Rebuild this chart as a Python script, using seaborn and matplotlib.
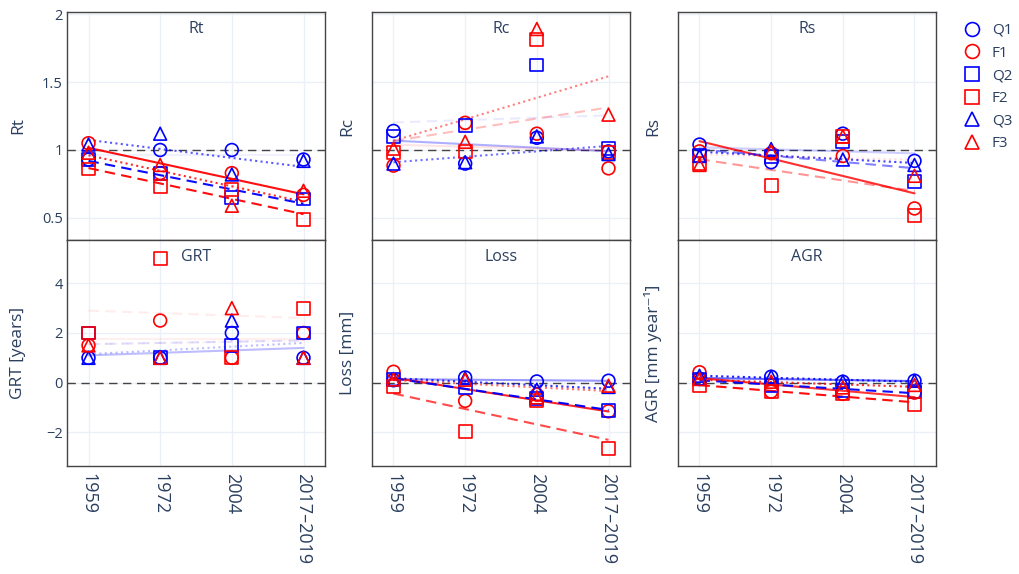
import numpy as np
import pandas as pd
import matplotlib
matplotlib.use("Agg")
import matplotlib.pyplot as plt
from matplotlib.lines import Line2D
import seaborn as sns

# categories
years = ["1959", "1972", "2004", "2017–2019"]
sites = ["Q1", "F1", "Q2", "F2", "Q3", "F3"]
panels = ["Rt", "Rc", "Rs", "GRT", "Loss", "AGR"]
ylabels = ["Rt", "Rc", "Rs", "GRT [years]", "Loss [mm]", "AGR [mm year⁻¹]"]

# values, one list per site (1959, 1972, 2004, 2017-2019)
rt_vals = {"Q1": [0.93, 1.00, 1.00, 0.93], "F1": [1.05, 0.83, 0.83, 0.67],
           "Q2": [0.93, 0.83, 0.65, 0.64], "F2": [0.86, 0.73, 0.71, 0.49],
           "Q3": [1.04, 1.12, 0.82, 0.92], "F3": [0.98, 0.89, 0.59, 0.70]}
rc_vals = {"Q1": [1.14, 0.90, 1.09, 0.99], "F1": [0.885, 1.20, 1.12, 0.865],
           "Q2": [1.10, 1.18, 1.625, 1.01], "F2": [0.98, 0.99, 1.81, 0.98],
           "Q3": [0.90, 0.91, 1.10, 0.97], "F3": [1.01, 1.06, 1.89, 1.26]}
rs_vals = {"Q1": [1.04, 0.91, 1.12, 0.92], "F1": [0.99, 0.976, 0.956, 0.57],
           "Q2": [0.96, 0.95, 1.06, 0.77], "F2": [0.90, 0.74, 1.10, 0.52],
           "Q3": [0.956, 1.007, 0.93, 0.89], "F3": [0.89, 0.99, 1.10, 0.81]}
grt_vals = {"Q1": [1.0, 1.0, 2.0, 1.0], "F1": [1.5, 2.5, 1.0, 2.0],
            "Q2": [2.0, 1.0, 1.5, 2.0], "F2": [2.0, 5.0, 1.0, 3.0],
            "Q3": [1.0, 1.0, 2.5, 1.0], "F3": [1.5, 1.0, 3.0, 1.0]}
loss_vals = {"Q1": [0.10, 0.21, 0.05, 0.08], "F1": [0.44, -0.73, -0.48, -1.15],
             "Q2": [0.13, -0.19, -0.65, -1.13], "F2": [-0.15, -1.96, -0.73, -2.63],
             "Q3": [0.15, 0.18, -0.28, -0.17], "F3": [0.13, 0.12, -0.59, -0.12]}
agr_vals = {"Q1": [0.15, 0.24, 0.04, 0.08], "F1": [0.42, -0.36, -0.45, -0.40],
            "Q2": [0.15, -0.12, -0.32, -0.36], "F2": [-0.12, -0.36, -0.42, -0.87],
            "Q3": [0.28, 0.24, 0.04, 0.08], "F3": [0.15, 0.04, -0.19, -0.09]}
panel_vals = [rt_vals, rc_vals, rs_vals, grt_vals, loss_vals, agr_vals]

top_ticks = [0.5, 1, 1.5, 2]
top_ticklabels = ["0.5", "1", "1.5", "2"]
bot_ticks = [-2, 0, 2, 4]
bot_ticklabels = ["−2", "0", "2", "4"]

# styles
colours = {"Q1": "#0000ff", "F1": "#ff0000", "Q2": "#0000ff",
           "F2": "#ff0000", "Q3": "#0000ff", "F3": "#ff0000"}
markers = {"Q1": "o", "F1": "o", "Q2": "s", "F2": "s", "Q3": "^", "F3": "^"}
linestyles = {"Q1": "-", "F1": "-", "Q2": (0, (5, 3)), "F2": (0, (5, 3)),
              "Q3": (0, (1, 1.6)), "F3": (0, (1, 1.6))}
text_c = "#2a3f5f"

sns.set_style("white")
plt.rcParams["font.family"] = ["Open Sans", "DejaVu Sans"]

W, H = 1020, 574
fig = plt.figure(figsize=(W / 100, H / 100), dpi=100)
lefts = [67, 372, 678]
tops = [12, 240]
bottoms = [240, 466]
x_pos = np.arange(len(years))

for i, name in enumerate(panels):
    r, c = divmod(i, 3)
    ax = fig.add_axes([lefts[c] / W, 1 - bottoms[r] / H, 258 / W,
                       (bottoms[r] - tops[r]) / H])
    vals = panel_vals[i]
    df = pd.DataFrame([(s, k, v) for s in sites for k, v in enumerate(vals[s])],
                      columns=["site", "pos", "value"])

    ref = 1 if r == 0 else 0
    ax.axhline(ref, color="#444444", ls=(0, (6, 4)), lw=1, zorder=2)

    # linear trend for every site, faded by the strength of the fit
    for s in sites:
        y = np.array(vals[s])
        rr = abs(np.corrcoef(x_pos, y)[0, 1])
        sns.regplot(x=x_pos, y=y, ax=ax, scatter=False, ci=None, truncate=True,
                    color=colours[s],
                    line_kws=dict(ls=linestyles[s], lw=1.5, alpha=max(rr, 0.06),
                                  zorder=3))

    sns.scatterplot(data=df, x="pos", y="value", hue="site", style="site",
                    hue_order=sites, style_order=sites, palette=colours,
                    markers=markers, s=85, linewidth=1.2, legend=False, ax=ax,
                    zorder=4)
    pts = ax.collections[-1]
    pts.set_edgecolors(pts.get_facecolors())
    pts.set_facecolors("none")

    ax.set_xlim(-0.3, 3.3)
    ax.set_xticks(x_pos)
    if r == 1:
        ax.set_xticklabels(years, rotation=-90, fontsize=13, color=text_c)
        ax.set_ylim(-3.35, 5.74)
        ax.set_yticks(bot_ticks)
        ticklabels = bot_ticklabels
    else:
        ax.set_xticklabels([])
        ax.set_ylim(0.338, 2.015)
        ax.set_yticks(top_ticks)
        ticklabels = top_ticklabels
    if c == 0:
        ax.set_yticklabels(ticklabels, fontsize=10.5, color=text_c)
    else:
        ax.set_yticklabels([])
    ax.tick_params(axis="both", length=0)
    ax.tick_params(axis="y", pad=3)
    ax.tick_params(axis="x", pad=5)
    ax.grid(True, color="#ebf0f8", lw=1)
    ax.set_axisbelow(True)
    for sp in ax.spines.values():
        sp.set_color("#444444")
        sp.set_linewidth(1)

    ax.set_xlabel("")
    ax.set_ylabel(ylabels[i], fontsize=12.5, color=text_c)
    ax.yaxis.label.set_va("center")
    ax.yaxis.set_label_coords(-0.188 if c == 0 else -0.095, 0.5)
    ax.text(0.5, 0.925, name, transform=ax.transAxes, ha="center", va="center",
            fontsize=11.5, color=text_c)

handles = [Line2D([], [], ls="none", marker=markers[s], mfc="none",
                  mec=colours[s], ms=10, mew=1.2) for s in sites]
fig.legend(handles, sites, loc="upper left", bbox_to_anchor=(0.944, 0.96),
           frameon=False, fontsize=11, labelcolor=text_c, handlelength=1.2,
           handletextpad=0.7, labelspacing=0.5, borderpad=0, borderaxespad=0)

fig.savefig("out.png", dpi=100)
